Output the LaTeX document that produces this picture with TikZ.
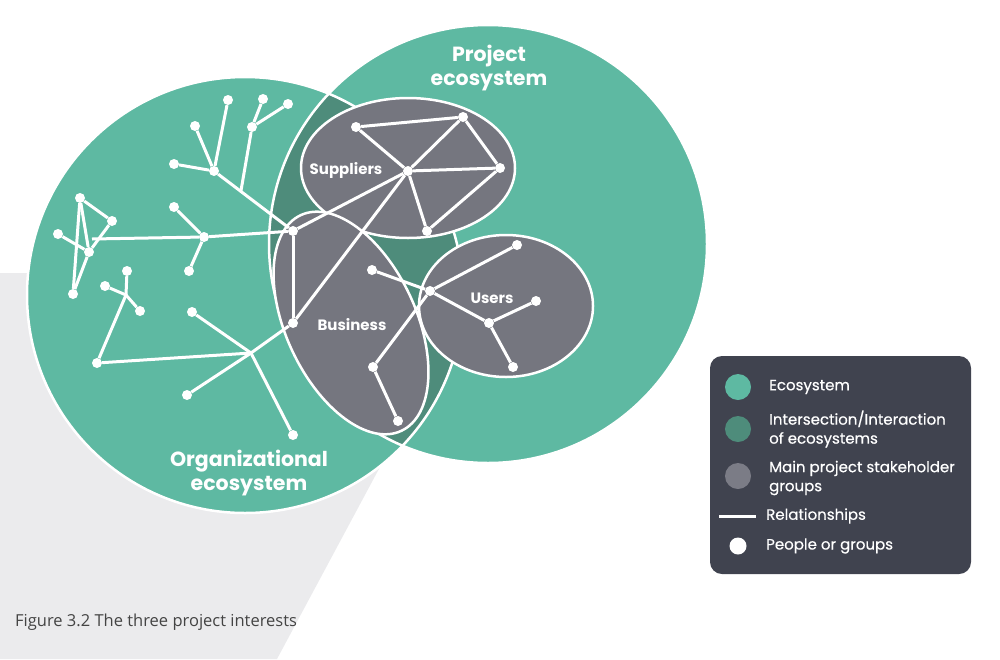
\documentclass[tikz,border=0pt]{standalone}
\usepackage{fontspec}
\usetikzlibrary{calc}
\setmainfont{Poppins}
\newfontfamily\legfont{Poppins}[FakeBold=0.5]
\newfontfamily\capfont{Open Sans}
\definecolor{eco}{HTML}{5EB9A2}
\definecolor{inter}{HTML}{4E8C7B}
\definecolor{grp}{HTML}{75767F}
\definecolor{leggrp}{HTML}{7B7C86}
\definecolor{legbg}{HTML}{40434F}
\definecolor{bgpoly}{HTML}{EBEBED}
\definecolor{captxt}{HTML}{444444}
\tikzset{
  dot/.style={circle,fill=white,inner sep=0pt,minimum size=10pt},
  rel/.style={draw=white,line width=3pt},
  grpshape/.style={fill=grp,draw=white,line width=2.5pt},
  biglabel/.style={text=white,font=\fontsize{20.5}{24.5}\selectfont\bfseries,align=center},
  grplabel/.style={text=white,font=\fontsize{15}{18}\selectfont\bfseries},
  legtext/.style={text=white,font=\legfont\fontsize{15}{19}\selectfont,anchor=west,align=left,inner sep=0pt}
}
\begin{document}
\begin{tikzpicture}[x=1pt,y=-1pt]
\useasboundingbox (0,0) rectangle (1000,659);
% background gray polygon
\fill[bgpoly] (0,273) -- (484,273) -- (277,659) -- (0,659) -- cycle;
% ecosystems
\fill[eco] (245,295) circle (218);
\fill[eco] (488,244) circle (219);
\begin{scope}
  \clip (245,295) circle (218);
  \fill[inter] (488,244) circle (219);
\end{scope}
\draw[white,line width=2.5pt] (245,295) circle (218);
\draw[white,line width=2.5pt] (488,244) circle (219);
% stakeholder groups
\draw[grpshape] (408,168) ellipse [x radius=107,y radius=70];
\draw[grpshape] (506,306) ellipse [x radius=87,y radius=71];
\draw[grpshape,rotate around={-65:(351,323)}] (351,323) ellipse [x radius=119,y radius=65];
% labels
\node[biglabel] (projlab) at (489,68) {Project\\ecosystem};
\node[biglabel] (orglab) at (249,473) {Organizational\\ecosystem};
\node[grplabel] (suplab) at (346,170) {Suppliers};
\node[grplabel] (buslab) at (352,325) {Business};
\node[grplabel] (uselab) at (492,298) {Users};
% nodes (people or groups)
\node[dot] (a1) at (228,100) {};
\node[dot] (a2) at (263,99) {};
\node[dot] (a3) at (288,104) {};
\node[dot] (a4) at (252,127) {};
\node[dot] (a5) at (195,126) {};
\node[dot] (a6) at (174,164) {};
\node[dot] (a7) at (214,171) {};
\node[dot] (b1) at (293,231) {};
\coordinate (a8) at ($(a7)!0.34!(b1)$);
\node[dot] (t1) at (80,198) {};
\node[dot] (t2) at (112,221) {};
\node[dot] (t3) at (58,234) {};
\node[dot] (t4) at (89,252) {};
\node[dot] (t5) at (73,294) {};
\coordinate (tf) at (92,239);
\node[dot] (c1) at (174,207) {};
\node[dot] (c2) at (204,237) {};
\node[dot] (c3) at (189,271) {};
\node[dot] (d1) at (127,271) {};
\node[dot] (d2) at (105,286) {};
\node[dot] (d3) at (140,311) {};
\coordinate (dj) at (126,295);
\node[dot] (d4) at (97,363) {};
\node[dot] (e1) at (192,312) {};
\coordinate (ej) at (251,353);
\node[dot] (e2) at (187,395) {};
\node[dot] (e3) at (293,435) {};
\node[dot] (b2) at (293,323) {};
\node[dot] (s1) at (356,127) {};
\node[dot] (s2) at (463,117) {};
\node[dot] (s3) at (500,168) {};
\node[dot] (sh) at (408,171) {};
\node[dot] (s4) at (427,231) {};
\node[dot] (z1) at (372,270) {};
\node[dot] (z2) at (373,367) {};
\node[dot] (z3) at (398,421) {};
\node[dot] (uj) at (430,291) {};
\node[dot] (u1) at (517,245) {};
\node[dot] (u2) at (536,301) {};
\node[dot] (uh) at (489,323) {};
\node[dot] (u3) at (513,367) {};
% relationships
\draw[rel] (a1) -- (a7);
\draw[rel] (a5) -- (a7);
\draw[rel] (a6) -- (a7);
\draw[rel] (a7) -- (b1);
\draw[rel] (a2) -- (a4);
\draw[rel] (a3) -- (a4);
\draw[rel] (a4) -- (a8);
\draw[rel] (t1) -- (t2);
\draw[rel] (t1) -- (t4);
\draw[rel] (t1) -- (t5);
\draw[rel] (t3) -- (t4);
\draw[rel] (t2) -- (t4);
\draw[rel] (t4) -- (t5);
\draw[rel] (tf) -- (c2);
\draw[rel] (c2) -- (b1);
\draw[rel] (c1) -- (c2);
\draw[rel] (c2) -- (c3);
\draw[rel] (d1) -- (dj);
\draw[rel] (d2) -- (dj);
\draw[rel] (dj) -- (d3);
\draw[rel] (dj) -- (d4);
\draw[rel] (d4) -- (ej);
\draw[rel] (e1) -- (ej);
\draw[rel] (ej) -- (e2);
\draw[rel] (ej) -- (e3);
\draw[rel] (ej) -- (b2);
\draw[rel] (b1) -- (b2);
\draw[rel] (b1) -- (sh);
\draw[rel] (b2) -- (sh);
\draw[rel] (s1) -- (s2);
\draw[rel] (s1) -- (sh);
\draw[rel] (s2) -- (s3);
\draw[rel] (s2) -- (sh);
\draw[rel] (sh) -- (s3);
\draw[rel] (sh) -- (s4);
\draw[rel] (s4) -- (s3);
\draw[rel] (z1) -- (uj);
\draw[rel] (uj) -- (u1);
\draw[rel] (uj) -- (uh);
\draw[rel] (uh) -- (u2);
\draw[rel] (uh) -- (u3);
\draw[rel] (uj) -- (z2);
\draw[rel] (z2) -- (z3);
% legend
\fill[legbg,rounded corners=12pt] (710,356) rectangle (971,574);
\fill[eco] (738,387) circle (13);
\fill[inter] (738,429) circle (13);
\fill[leggrp] (738,476) circle (13);
\node[legtext] (l1) at (769,387) {Ecosystem};
\node[legtext] (l2) at (769,429) {Intersection/Interaction\\of ecosystems};
\node[legtext] (l3) at (769,478) {Main project stakeholder\\groups};
\coordinate (lr1) at (719,516);
\coordinate (lr2) at (756,516);
\draw[white,line width=3pt] (lr1) -- (lr2);
\node[legtext] (l4) at (766,516) {Relationships};
\fill[white] (738,546) circle (8.5);
\node[legtext] (l5) at (766,546) {People or groups};
% caption
\node[anchor=west,inner sep=0pt,text=captxt,font=\capfont\fontsize{16.5}{19}\selectfont] (cap) at (15,622) {Figure 3.2 The three project interests};
\end{tikzpicture}
\end{document}
